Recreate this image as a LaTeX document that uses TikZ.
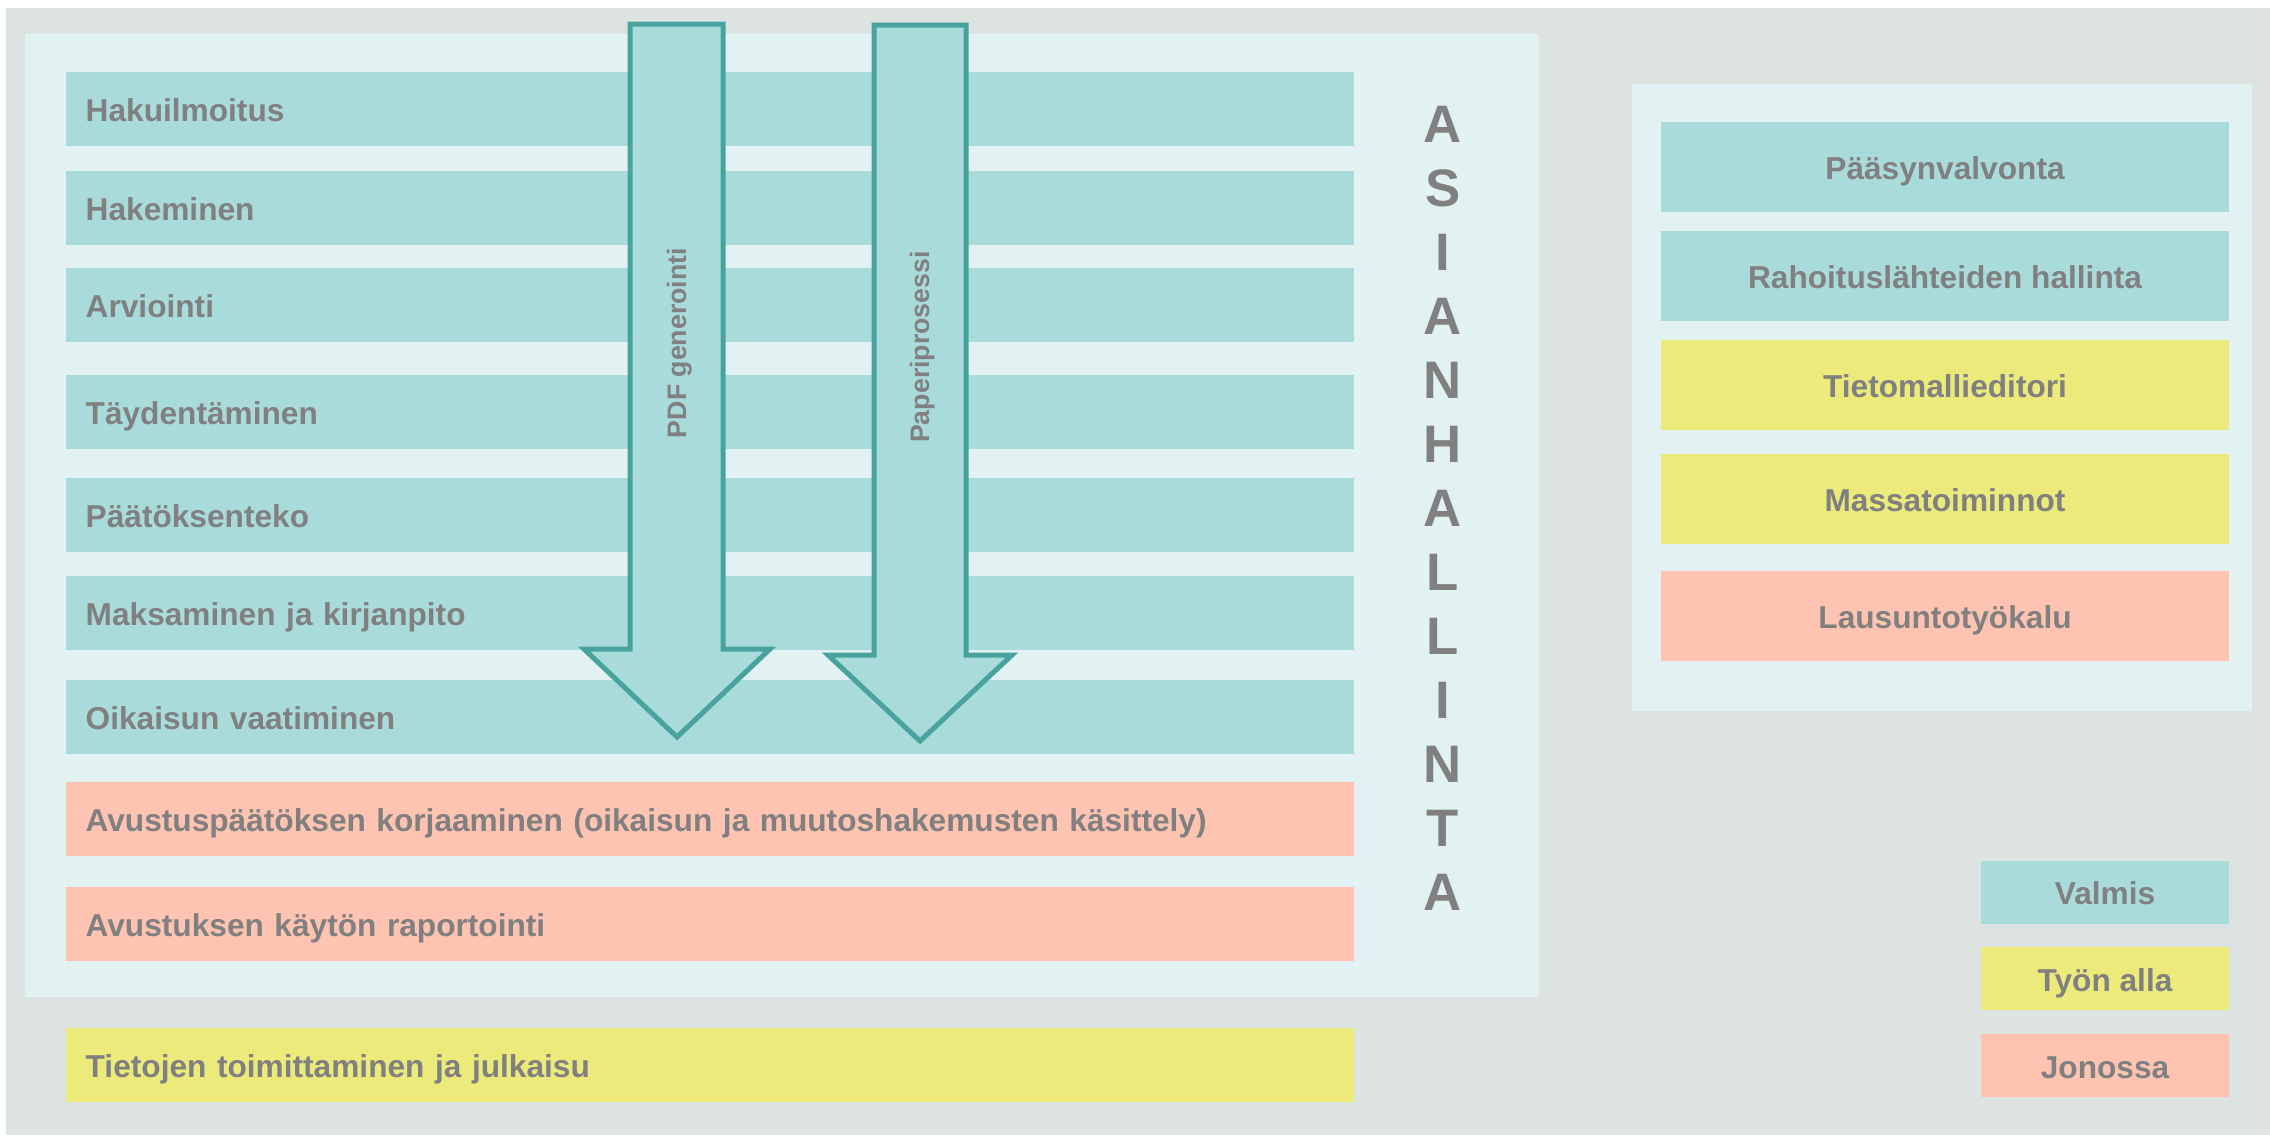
\documentclass[tikz,border=0pt]{standalone}
\usepackage{fontspec}
\setmainfont{Liberation Sans}
\usepackage{tikz}
\usetikzlibrary{positioning}

\definecolor{pagegray}{RGB}{221,227,225}
\definecolor{panelbg}{RGB}{226,242,242}
\definecolor{valmis}{RGB}{170,219,219}
\definecolor{tyonalla}{RGB}{237,234,124}
\definecolor{jonossa}{RGB}{255,196,177}
\definecolor{arrowline}{RGB}{72,163,159}
\definecolor{labelgray}{RGB}{128,128,128}

\tikzstyle{phase} = [rectangle, anchor=west, text width=12.48cm, align=left,
    inner xsep=0.2cm, inner ysep=0pt, minimum height=0.74cm,
    text height=0.72em, text depth=0pt,
    font=\fontsize{9}{11}\selectfont\bfseries, text=labelgray]
\tikzstyle{tool} = [rectangle, minimum width=5.67cm, minimum height=0.9cm,
    inner sep=0pt, text height=0.72em, text depth=0pt,
    font=\fontsize{9}{11}\selectfont\bfseries, text=labelgray]
\tikzstyle{legend} = [rectangle, minimum width=2.48cm, minimum height=0.63cm,
    inner sep=0pt, text height=0.72em, text depth=0pt,
    font=\fontsize{9}{11}\selectfont\bfseries, text=labelgray]
\tikzstyle{letter} = [inner sep=0pt, font=\fontsize{15}{15}\selectfont\bfseries, text=labelgray]
\tikzstyle{process} = [fill=valmis, draw=arrowline, line width=1.42pt, line join=miter]
\tikzstyle{flowlabel} = [rotate=90, inner sep=0pt, text height=0.72em, text depth=0.2em,
    font=\fontsize{7.6}{9}\selectfont\bfseries, text=labelgray]

\begin{document}
\begin{tikzpicture}[x=0.01cm, y=-0.01cm]
  \useasboundingbox [fill=white] (0,0) rectangle (2270,1135);
  \fill [pagegray] (6,8) rectangle (2270,1135);
  \fill [panelbg] (25,34) rectangle (1539,997);
  \fill [panelbg] (1632,84) rectangle (2252,711);

  % process steps
  \node [phase, fill=valmis] (hakuilm) at (65,109) {Hakuilmoitus};
  \node [phase, fill=valmis] (hakem) at (65,208) {Hakeminen};
  \node [phase, fill=valmis] (arvio) at (65,305) {Arviointi};
  \node [phase, fill=valmis] (tayd) at (65,412) {Täydentäminen};
  \node [phase, fill=valmis] (paatos) at (65,515) {Päätöksenteko};
  \node [phase, fill=valmis] (maksu) at (65,613) {Maksaminen ja kirjanpito};
  \node [phase, fill=valmis] (oikaisu) at (65,717) {Oikaisun vaatiminen};
  \node [phase, fill=jonossa] (korjaus) at (65,819) {Avustuspäätöksen korjaaminen (oikaisun ja muutoshakemusten käsittely)};
  \node [phase, fill=jonossa] (raportti) at (65,924) {Avustuksen käytön raportointi};
  \node [phase, fill=tyonalla] (julkaisu) at (65,1065) {Tietojen toimittaminen ja julkaisu};

  % the two process arrows
  \draw [process] (630,24) -- (723,24) -- (723,649) -- (770,649)
    -- (677,737) -- (584,649) -- (630,649) -- cycle;
  \node [flowlabel] (pdf) at (677,343) {PDF generointi};
  \draw [process] (874,25) -- (966,25) -- (966,655) -- (1012,655)
    -- (920,741) -- (828,655) -- (874,655) -- cycle;
  \node [flowlabel] (paperi) at (920,347) {Paperiprosessi};

  \foreach \c [count=\i from 0] in {A,S,I,A,N,H,A,L,L,I,N,T,A}
    \node [letter] (asia\i) at (1443,124+64*\i) {\c};

  % tools
  \node [tool, fill=valmis] (paasy) at (1945,167) {Pääsynvalvonta};
  \node [tool, fill=valmis] (rahoitus) at (1945,276) {Rahoituslähteiden hallinta};
  \node [tool, fill=tyonalla] (tietomalli) at (1945,385) {Tietomallieditori};
  \node [tool, fill=tyonalla] (massa) at (1945,499) {Massatoiminnot};
  \node [tool, fill=jonossa] (lausunto) at (1945,616) {Lausuntotyökalu};

  % legend
  \node [legend, fill=valmis] (lvalmis) at (2105,892) {Valmis};
  \node [legend, fill=tyonalla, below=0.22cm of lvalmis] (ltyo) {Työn alla};
  \node [legend, fill=jonossa, below=0.23cm of ltyo] (ljono) {Jonossa};
\end{tikzpicture}
\end{document}
